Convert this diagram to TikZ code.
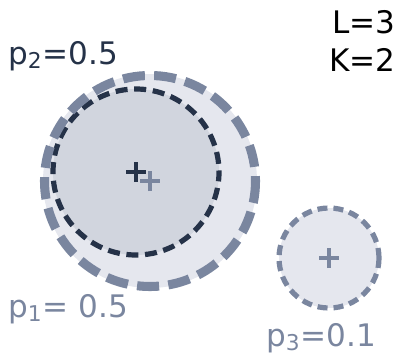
\documentclass[tikz,border=0pt]{standalone}
\usepackage{fontspec}
\setmainfont{DejaVu Sans}
\definecolor{navy}{HTML}{253248}
\definecolor{slate}{HTML}{7A869F}
\definecolor{lightfill}{HTML}{E5E7EE}
\definecolor{midfill}{HTML}{D1D5DE}
\tikzset{
  lbl/.style={inner sep=0pt, font=\fontsize{23.3}{28}\selectfont},
  plusmark/.style={line width=3pt},
}
\begin{document}
\begin{tikzpicture}[x=0.75pt,y=-0.75pt]
\useasboundingbox (0,0) rectangle (400,354);
\coordinate (c1) at (150,181);
\coordinate (c2) at (136,172);
\coordinate (c3) at (329,258);
% outer circle p1 fill
\fill[lightfill] (c1) circle (107);
% inner circle p2
\fill[midfill] (c2) circle (83);
\draw[navy, line width=3.9pt, dash pattern=on 9pt off 5pt, dash phase=2pt] (c2) circle (83);
% outer circle p1 dashes
\draw[slate, line width=6.8pt, dash pattern=on 16.5pt off 7pt] (c1) circle (105.5);
% small circle p3
\draw[slate, fill=lightfill, line width=3.9pt, dash pattern=on 7.5pt off 4.5pt] (c3) circle (50);
% plus markers
\draw[plusmark, navy] ([xshift=-7.5pt]c2) -- ([xshift=7.5pt]c2) ([yshift=-7.5pt]c2) -- ([yshift=7.5pt]c2);
\draw[plusmark, slate] ([xshift=-7.5pt]c1) -- ([xshift=7.5pt]c1) ([yshift=-7.5pt]c1) -- ([yshift=7.5pt]c1);
\draw[plusmark, slate] ([xshift=-7.5pt]c3) -- ([xshift=7.5pt]c3) ([yshift=-7.5pt]c3) -- ([yshift=7.5pt]c3);
% labels
\node[lbl, anchor=base west, text=navy] (p2) at (8,64) {p\textsubscript{2}=0.5};
\node[lbl, anchor=base west, text=slate] (p1) at (8,317) {p\textsubscript{1}= 0.5};
\node[lbl, anchor=base west, text=slate] (p3) at (266,346) {p\textsubscript{3}=0.1};
\node[lbl, anchor=base east, text=black] (L) at (396,33) {L=3};
\node[lbl, anchor=base east, text=black] (K) at (396,71) {K=2};
\end{tikzpicture}
\end{document}
